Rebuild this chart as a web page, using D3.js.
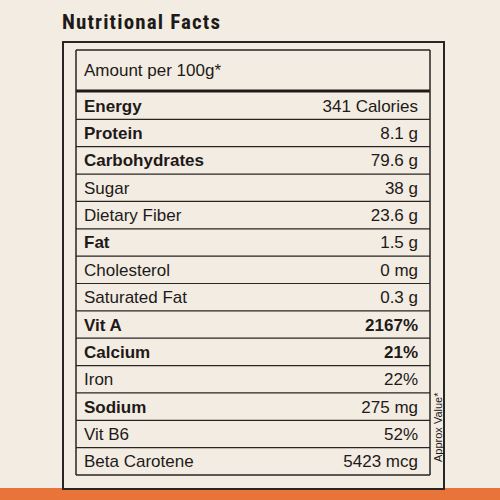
<!DOCTYPE html>
<html><head><meta charset="utf-8">
<script src="https://cdn.jsdelivr.net/npm/d3@7"></script>
<style>body{margin:0;background:#f2ece3}</style></head>
<body><svg id="c" width="500" height="500"></svg>
<script>
const nutrients=["Energy","Protein","Carbohydrates","Sugar","Dietary Fiber","Fat","Cholesterol","Saturated Fat","Vit A","Calcium","Iron","Sodium","Vit B6","Beta Carotene"];
const amounts=["341 Calories","8.1 g","79.6 g","38 g","23.6 g","1.5 g","0 mg","0.3 g","2167%","21%","22%","275 mg","52%","5423 mcg"];
const boldName=[1,1,1,0,0,1,0,0,1,1,0,1,0,0];
const boldVal=[0,0,0,0,0,0,0,0,1,1,0,0,0,0];
const svg=d3.select("#c");
svg.append("rect").attr("width",500).attr("height",500).attr("fill","#f2ece3");
svg.append("rect").attr("x",0).attr("y",488).attr("width",500).attr("height",12).attr("fill","#e8743a");
svg.append("text").attr("x",62).attr("y",29).text("Nutritional Facts")
  .attr("font-family","Liberation Sans Narrow, Roboto Condensed, Liberation Sans").attr("font-weight","bold").attr("font-size",21).attr("fill","#1e1a18").attr("textLength",158);
svg.append("rect").attr("x",63).attr("y",42).attr("width",381).attr("height",447).attr("fill","none").attr("stroke","#2a2522").attr("stroke-width",2);
svg.append("text").attr("x",84).attr("y",76).text("Amount per 100g*").attr("font-family","Liberation Sans").attr("font-size",17).attr("fill","#1e1a18");
const y=d3.scaleBand().domain(nutrients).range([92,475]);
const L=76,R=430;
svg.append("line").attr("x1",L).attr("x2",R).attr("y1",91).attr("y2",91).attr("stroke","#1e1a18").attr("stroke-width",3);
svg.append("line").attr("x1",L).attr("x2",L).attr("y1",50).attr("y2",475).attr("stroke","#2a2522").attr("stroke-width",1.5);
svg.append("line").attr("x1",R).attr("x2",R).attr("y1",50).attr("y2",475).attr("stroke","#2a2522").attr("stroke-width",1.5);
svg.append("line").attr("x1",L).attr("x2",R).attr("y1",50).attr("y2",50).attr("stroke","#2a2522").attr("stroke-width",1.5);
svg.append("line").attr("x1",L).attr("x2",R).attr("y1",475).attr("y2",475).attr("stroke","#2a2522").attr("stroke-width",1.5);
const g=svg.selectAll("g.r").data(nutrients).join("g");
g.filter((d,i)=>i>0).append("line").attr("x1",L).attr("x2",R).attr("y1",d=>y(d)).attr("y2",d=>y(d)).attr("stroke","#2a2522").attr("stroke-width",1.2);
g.append("text").attr("x",84).attr("y",d=>y(d)+y.bandwidth()/2+6).text(d=>d)
  .attr("font-family","Liberation Sans").attr("font-size",17).attr("fill","#1e1a18").attr("font-weight",(d,i)=>boldName[i]?"bold":"normal");
g.append("text").attr("x",418).attr("text-anchor","end").attr("y",d=>y(d)+y.bandwidth()/2+6).text((d,i)=>amounts[i])
  .attr("font-family","Liberation Sans").attr("font-size",17).attr("fill","#1e1a18").attr("font-weight",(d,i)=>boldVal[i]?"bold":"normal");
svg.append("text").attr("transform","translate(442,462) rotate(-90)").text("Approx Value*")
  .attr("font-family","Liberation Sans").attr("font-size",11).attr("fill","#1e1a18");
</script></body></html>
